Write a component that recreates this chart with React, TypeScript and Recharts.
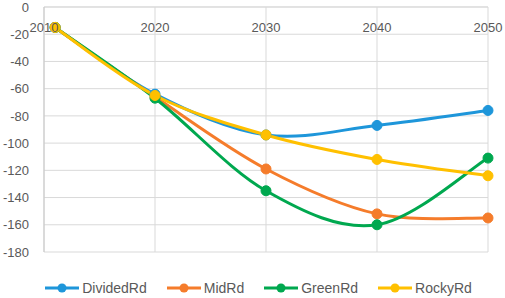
import { LineChart, Line, XAxis, YAxis, CartesianGrid, Legend } from "recharts";

// x positions (years) of the points; first point sits a year after the 2010 gridline
const years = [2011, 2020, 2030, 2040, 2050];
const dividedRd = [-15, -64, -94, -87, -76];
const midRd = [-15, -66, -119, -152, -155];
const greenRd = [-15, -67, -135, -160, -111];
const rockyRd = [-15, -65, -94, -112, -124];

const xTicks = [2010, 2020, 2030, 2040, 2050];
const yTicks = [0, -20, -40, -60, -80, -100, -120, -140, -160, -180];

const seriesList = [
  { key: "DividedRd", values: dividedRd, color: "#1E96DA" },
  { key: "MidRd", values: midRd, color: "#F57C2B" },
  { key: "GreenRd", values: greenRd, color: "#00A84F" },
  { key: "RockyRd", values: rockyRd, color: "#FFC000" },
];

const data = years.map((year, i) => {
  const row: Record<string, number> = { year };
  seriesList.forEach((s) => {
    row[s.key] = s.values[i];
  });
  return row;
});

const FONT = '"Liberation Sans", Arial, sans-serif';
const PLOT_TOP = 7;

/**
 * Excel-like smoothed line (Catmull-Rom style bezier)
 */
const excelSmooth = (context: any) => {
  let pts: [number, number][] = [];
  return {
    areaStart() {},
    areaEnd() {},
    lineStart() {
      pts = [];
    },
    point(x: number, y: number) {
      pts.push([x, y]);
    },
    lineEnd() {
      if (pts.length === 0) return;
      context.moveTo(pts[0][0], pts[0][1]);
      for (let i = 0; i < pts.length - 1; i++) {
        const p0 = pts[Math.max(0, i - 1)];
        const p1 = pts[i];
        const p2 = pts[i + 1];
        const p3 = pts[Math.min(pts.length - 1, i + 2)];
        context.bezierCurveTo(
          p1[0] + (p2[0] - p0[0]) / 6,
          p1[1] + (p2[1] - p0[1]) / 6,
          p2[0] - (p3[0] - p1[0]) / 6,
          p2[1] - (p3[1] - p1[1]) / 6,
          p2[0],
          p2[1]
        );
      }
    },
  };
};

// category labels sit just below the axis line at 0 (inside the plot), like Excel
const YearTick = ({ x, payload }: any) => (
  <text x={x} y={PLOT_TOP + 25} textAnchor="middle" fill="#595959" fontSize={13} fontFamily={FONT}>
    {payload.value}
  </text>
);

const LegendContent = () => (
  <div
    style={{
      height: 46,
      display: "flex",
      justifyContent: "center",
      alignItems: "flex-end",
      paddingLeft: 29,
      boxSizing: "border-box",
      fontFamily: FONT,
      fontSize: 14,
      color: "#595959",
    }}
  >
    {seriesList.map((s) => (
      <div key={s.key} style={{ display: "flex", alignItems: "center", margin: "0 10px", height: 20 }}>
        <svg width={34} height={12} style={{ marginRight: 3 }}>
          <line x1={0} y1={6} x2={34} y2={6} stroke={s.color} strokeWidth={3} />
          <circle cx={17} cy={6} r={4.5} fill={s.color} />
        </svg>
        <span>{s.key}</span>
      </div>
    ))}
  </div>
);

const App = () => {
  return (
    <div style={{ position: "absolute", left: 0, top: 0, width: 505, height: 298, background: "#fff" }}>
      <LineChart width={505} height={298} data={data} margin={{ top: PLOT_TOP - 1, right: 17, left: 0, bottom: 0 }}>
        <CartesianGrid stroke="#d9d9d9" strokeWidth={1} />
        <XAxis
          dataKey="year"
          type="number"
          domain={[2010, 2050]}
          ticks={xTicks}
          interval={0}
          orientation="top"
          height={1}
          axisLine={{ stroke: "#d9d9d9" }}
          tickLine={false}
          tick={<YearTick />}
        />
        <YAxis
          type="number"
          domain={[-180, 0]}
          ticks={yTicks}
          interval={0}
          width={44}
          axisLine={{ stroke: "#c8c8c8" }}
          tickLine={false}
          tickMargin={9}
          tick={{ fill: "#595959", fontSize: 13, fontFamily: FONT }}
        />
        <Legend verticalAlign="bottom" height={46} content={<LegendContent />} />
        {seriesList.map((s) => (
          <Line
            key={s.key}
            dataKey={s.key}
            type={excelSmooth as any}
            stroke={s.color}
            strokeWidth={3}
            dot={{ r: 5, fill: s.color, stroke: s.color, strokeWidth: 1 }}
            isAnimationActive={false}
          />
        ))}
      </LineChart>
    </div>
  );
};

export default App;
